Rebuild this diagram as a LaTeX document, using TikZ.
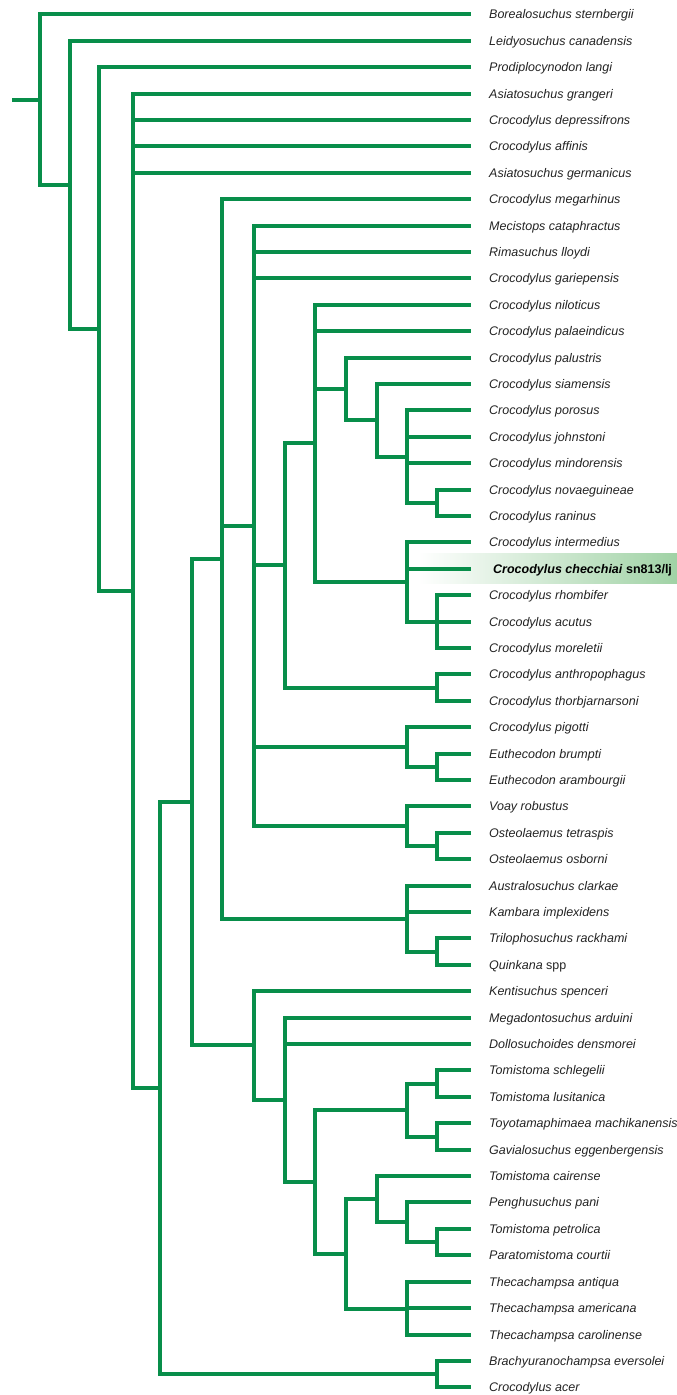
\documentclass[tikz,border=0pt]{standalone}
\usepackage{fontspec}
\setmainfont{Liberation Sans}
\usetikzlibrary{calc}
\definecolor{brgreen}{RGB}{8,142,74}
\definecolor{hlgreen}{RGB}{160,210,165}
\definecolor{txtgray}{RGB}{35,35,35}
% leaf: [node options]{index}{label}
\newcommand\leaf[3][]{%
  \coordinate (l#2) at (470.7,{round(14.3+(#2-1)*26.404)});
  \node[taxon,#1] (t#2) at (489,{round(14.3+(#2-1)*26.404)+4.7}) {#3};}
% clade: {name}{x}{first child}{last child}
\newcommand\clade[4]{%
  \path let \p1=($(#3)!.5!(#4)$) in coordinate (#1) at (#2pt,\y1);}
\begin{document}
\begin{tikzpicture}[x=1pt,y=-1pt,
  branch/.style={brgreen,line width=4pt},
  taxon/.style={anchor=base west,inner sep=0pt,text=txtgray,
    font=\fontsize{12.5}{14}\selectfont\itshape}]
\useasboundingbox (0,0) rectangle (677,1395);
% highlight band
\shade[left color=white,right color=hlgreen] (418,553) rectangle (677,583.5);
% leaves
\leaf{1}{Borealosuchus sternbergii}
\leaf{2}{Leidyosuchus canadensis}
\leaf{3}{Prodiplocynodon langi}
\leaf{4}{Asiatosuchus grangeri}
\leaf{5}{Crocodylus depressifrons}
\leaf{6}{Crocodylus affinis}
\leaf{7}{Asiatosuchus germanicus}
\leaf{8}{Crocodylus megarhinus}
\leaf{9}{Mecistops cataphractus}
\leaf{10}{Rimasuchus lloydi}
\leaf{11}{Crocodylus gariepensis}
\leaf{12}{Crocodylus niloticus}
\leaf{13}{Crocodylus palaeindicus}
\leaf{14}{Crocodylus palustris}
\leaf{15}{Crocodylus siamensis}
\leaf{16}{Crocodylus porosus}
\leaf{17}{Crocodylus johnstoni}
\leaf{18}{Crocodylus mindorensis}
\leaf{19}{Crocodylus novaeguineae}
\leaf{20}{Crocodylus raninus}
\leaf{21}{Crocodylus intermedius}
\leaf[xshift=4pt,text=black]{22}{\bfseries Crocodylus checchiai \textup{sn813/lj}}
\leaf{23}{Crocodylus rhombifer}
\leaf{24}{Crocodylus acutus}
\leaf{25}{Crocodylus moreletii}
\leaf{26}{Crocodylus anthropophagus}
\leaf{27}{Crocodylus thorbjarnarsoni}
\leaf{28}{Crocodylus pigotti}
\leaf{29}{Euthecodon brumpti}
\leaf{30}{Euthecodon arambourgii}
\leaf{31}{Voay robustus}
\leaf{32}{Osteolaemus tetraspis}
\leaf{33}{Osteolaemus osborni}
\leaf{34}{Australosuchus clarkae}
\leaf{35}{Kambara implexidens}
\leaf{36}{Trilophosuchus rackhami}
\leaf{37}{Quinkana \textup{spp}}
\leaf{38}{Kentisuchus spenceri}
\leaf{39}{Megadontosuchus arduini}
\leaf{40}{Dollosuchoides densmorei}
\leaf{41}{Tomistoma schlegelii}
\leaf{42}{Tomistoma lusitanica}
\leaf{43}{Toyotamaphimaea machikanensis}
\leaf{44}{Gavialosuchus eggenbergensis}
\leaf{45}{Tomistoma cairense}
\leaf{46}{Penghusuchus pani}
\leaf{47}{Tomistoma petrolica}
\leaf{48}{Paratomistoma courtii}
\leaf{49}{Thecachampsa antiqua}
\leaf{50}{Thecachampsa americana}
\leaf{51}{Thecachampsa carolinense}
\leaf{52}{Brachyuranochampsa eversolei}
\leaf{53}{Crocodylus acer}
% internal nodes (bottom-up)
\clade{M}{437}{l19}{l20}
\clade{L}{407}{l16}{M}
\clade{K}{377}{l15}{L}
\clade{J}{346}{l14}{K}
\clade{O}{437}{l23}{l25}
\clade{N}{407}{l21}{O}
\clade{I}{315}{l12}{N}
\clade{AN}{437}{l26}{l27}
\clade{H}{285}{I}{AN}
\clade{Q}{437}{l29}{l30}
\clade{P}{407}{l28}{Q}
\clade{W}{437}{l32}{l33}
\clade{V}{407}{l31}{W}
\clade{G}{254}{l9}{V}
\clade{TQ}{437}{l36}{l37}
\clade{AU}{407}{l34}{TQ}
\clade{F}{222}{l8}{AU}
\clade{Y1}{437}{l41}{l42}
\clade{Y2}{437}{l43}{l44}
\clade{Y}{407}{Y1}{Y2}
\clade{DD}{437}{l47}{l48}
\clade{CC}{407}{l46}{DD}
\clade{AA}{377}{l45}{CC}
\clade{BB}{407}{l49}{l51}
\clade{Z2}{346}{AA}{BB}
\clade{X}{315}{Y}{Z2}
\clade{U}{285}{l39}{X}
\clade{T}{254}{l38}{U}
\clade{E}{192}{F}{T}
\clade{Z}{437}{l52}{l53}
\clade{D}{160}{E}{Z}
\clade{C}{133}{l4}{D}
\clade{B}{99}{l3}{C}
\clade{A}{70}{l2}{B}
\clade{R}{40}{l1}{A}
\coordinate (stub) at ($(R)+(-28,0)$);
% branches
\draw[branch] (stub) -- (R);
\draw[branch] (R) |- (l1) (R) |- (A);
\draw[branch] (A) |- (l2) (A) |- (B);
\draw[branch] (B) |- (l3) (B) |- (C);
\draw[branch] (C) |- (l4) (C) |- (l5) (C) |- (l6) (C) |- (l7) (C) |- (D);
\draw[branch] (D) |- (E) (D) |- (Z);
\draw[branch] (Z) |- (l52) (Z) |- (l53);
\draw[branch] (E) |- (F) (E) |- (T);
\draw[branch] (F) |- (l8) (F) |- (G) (F) |- (AU);
\draw[branch] (AU) |- (l34) (AU) |- (l35) (AU) |- (TQ);
\draw[branch] (TQ) |- (l36) (TQ) |- (l37);
\draw[branch] (G) |- (l9) (G) |- (l10) (G) |- (l11) (G) |- (H) (G) |- (P) (G) |- (V);
\draw[branch] (V) |- (l31) (V) |- (W);
\draw[branch] (W) |- (l32) (W) |- (l33);
\draw[branch] (P) |- (l28) (P) |- (Q);
\draw[branch] (Q) |- (l29) (Q) |- (l30);
\draw[branch] (H) |- (I) (H) |- (AN);
\draw[branch] (AN) |- (l26) (AN) |- (l27);
\draw[branch] (I) |- (l12) (I) |- (l13) (I) |- (J) (I) |- (N);
\draw[branch] (N) |- (l21) (N) |- (l22) (N) |- (O);
\draw[branch] (O) |- (l23) (O) |- (l24) (O) |- (l25);
\draw[branch] (J) |- (l14) (J) |- (K);
\draw[branch] (K) |- (l15) (K) |- (L);
\draw[branch] (L) |- (l16) (L) |- (l17) (L) |- (l18) (L) |- (M);
\draw[branch] (M) |- (l19) (M) |- (l20);
\draw[branch] (T) |- (l38) (T) |- (U);
\draw[branch] (U) |- (l39) (U) |- (l40) (U) |- (X);
\draw[branch] (X) |- (Y) (X) |- (Z2);
\draw[branch] (Y) |- (Y1) (Y) |- (Y2);
\draw[branch] (Y1) |- (l41) (Y1) |- (l42);
\draw[branch] (Y2) |- (l43) (Y2) |- (l44);
\draw[branch] (Z2) |- (AA) (Z2) |- (BB);
\draw[branch] (AA) |- (l45) (AA) |- (CC);
\draw[branch] (CC) |- (l46) (CC) |- (DD);
\draw[branch] (DD) |- (l47) (DD) |- (l48);
\draw[branch] (BB) |- (l49) (BB) |- (l50) (BB) |- (l51);
\end{tikzpicture}
\end{document}
